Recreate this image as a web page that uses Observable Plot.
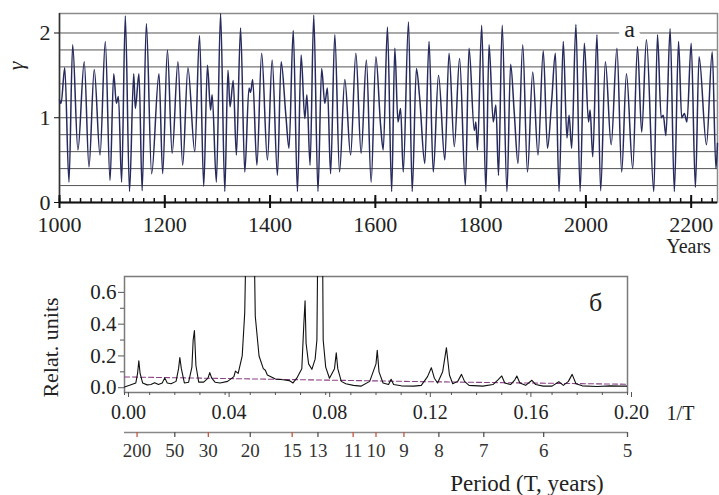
<!DOCTYPE html>
<html>
<head>
<meta charset="utf-8">
<script src="https://cdn.jsdelivr.net/npm/d3@7"></script>
<script src="https://cdn.jsdelivr.net/npm/@observablehq/plot@0.6"></script>
<style>
  html, body { margin: 0; padding: 0; background: #ffffff; }
  #wrap { width: 719px; height: 495px; position: relative; overflow: hidden; }
  #wrap svg { display: block; font-family: "Liberation Serif", "DejaVu Serif", serif !important; }
  #wrap svg text, #wrap svg g { font-family: "Liberation Serif", "DejaVu Serif", serif !important; }
</style>
</head>
<body>
<div id="wrap"></div>
<script>
// ---------- Panel a: reconstructed series ----------
const years = [1000,1003,1010,1018,1025,1035,1047,1056,1066,1077,1087,1096,1103,1108,1112,1118,1125,1133,1141,1144,1151,1157,1165,1175,1189,1196,
1205,1214,1225,1234,1244,1257,1266,1274,1281,1287,1290,1298,1306,1314,1320,1324,1330,1336,1344,1352,1360,1363,1367,1375,1384,1395,
1404,1414,1421,1430,1436,1444,1452,1459,1466,1470,1476,1483,1491,1498,1504,1509,1515,1523,1532,1542,1553,1563,1573,1583,1592,
1601,1610,1615,1623,1631,1637,1643,1648,1653,1663,1670,1678,1684,1694,1702,1710,1720,1732,1740,1750,1760,1771,1778,1788,1791,1794,
1802,1810,1816,1824,1829,1834,1841,1850,1857,1864,1871,1880,1889,1899,1909,1919,1927,1935,1942,1949,1957,1964,1968,1973,1981,1989,1997,
2005,2008,2013,2021,2028,2037,2048,2059,2068,2077,2089,2098,2106,2115,2129,2136,2143,2147,2152,2160,2168,2176,2182,2187,2192,
2200,2208,2215,2229,2240,2247,2250];
const gammaValues = [1.21,1.17,1.59,0.24,1.86,0.62,1.66,0.42,1.57,0.56,1.90,0.26,1.52,1.17,1.25,0.24,2.20,0.13,1.52,1.11,1.52,0.14,2.11,0.34,1.52,0.34,
1.80,0.58,1.66,0.44,1.59,0.60,1.97,0.19,1.62,1.09,1.27,0.24,2.23,0.13,1.56,1.13,1.44,0.56,2.06,0.36,1.35,1.30,1.45,0.44,1.76,0.50,
1.68,0.32,1.66,1.03,0.64,2.03,0.13,1.74,0.99,1.27,0.44,2.21,0.13,1.58,1.17,1.35,0.34,1.98,0.36,1.45,0.56,1.76,0.58,1.68,0.24,
1.72,0.91,0.62,2.07,0.13,1.82,0.95,1.11,0.36,2.13,0.13,1.58,1.25,0.46,1.90,0.36,1.50,0.50,1.76,0.66,1.70,0.20,1.82,0.85,0.95,0.62,
2.09,0.13,1.86,0.95,1.15,0.32,2.09,0.13,1.63,1.05,0.46,1.86,0.36,1.54,0.56,1.79,0.64,1.20,1.76,0.13,1.90,0.76,1.03,0.64,2.10,0.13,1.88,
0.95,1.09,0.54,1.98,0.14,1.66,0.68,1.82,0.36,1.52,0.40,1.84,0.83,1.92,0.13,1.98,1.00,1.03,0.79,2.05,0.13,1.90,1.00,1.05,0.95,
1.88,0.18,1.72,0.68,1.78,0.40,0.70];
const yearLabels = [1000,1200,1400,1600,1800,2000,2200];
const yearMinor = d3.range(1000, 2251, 20);
const gammaLabels = [0,1,2];
const gammaGrid = [0.2,0.4,0.6,0.8,1.0,1.2,1.4,1.6,1.8,2.0];

// ---------- Panel б: spectrum ----------
const specFreq = [0.000,0.002,0.0045,0.0052,0.0057,0.0062,0.0072,0.009,0.0105,0.012,0.0135,0.015,0.016,0.017,0.0185,0.0205,0.0215,0.022,0.0226,0.0238,
0.0255,0.0268,0.0273,0.0278,0.0284,0.0295,0.0315,0.0332,0.0339,0.0347,0.036,0.038,0.041,0.0435,0.0441,0.0452,0.0468,0.0478,0.0490,0.0510,
0.0520,0.0535,0.0552,0.056,0.0568,0.060,0.063,0.0655,0.067,0.0685,0.0705,0.0713,0.0718,0.0722,0.0732,0.0745,0.0758,0.0765,0.0772,0.0785,
0.079,0.080,0.0815,0.0835,0.0842,0.0848,0.0862,0.088,0.091,0.094,0.0975,0.1000,0.1005,0.1012,0.1028,0.105,0.106,0.107,0.110,0.115,
0.118,0.1205,0.122,0.1232,0.1245,0.1265,0.128,0.1292,0.1305,0.1325,0.134,0.1352,0.137,0.1425,0.1465,0.1485,0.150,0.1512,0.1535,0.1552,
0.156,0.1572,0.1595,0.162,0.1635,0.1665,0.170,0.1727,0.1745,0.1765,0.178,0.1795,0.182,0.188,0.193,0.197,0.200];
const specPower = [0.005,0.015,0.03,0.09,0.17,0.09,0.03,0.018,0.02,0.032,0.02,0.03,0.062,0.03,0.025,0.04,0.12,0.19,0.12,0.03,
0.035,0.13,0.30,0.36,0.14,0.035,0.035,0.06,0.095,0.06,0.035,0.03,0.04,0.07,0.105,0.09,0.2,0.47,1.5,1.5,
0.45,0.2,0.12,0.11,0.08,0.055,0.05,0.045,0.03,0.06,0.12,0.4,0.547,0.28,0.15,0.116,0.18,0.3,1.5,1.5,
0.3,0.13,0.06,0.12,0.22,0.12,0.04,0.025,0.015,0.01,0.04,0.15,0.236,0.1,0.03,0.02,0.053,0.02,0.012,0.01,
0.015,0.07,0.126,0.06,0.03,0.1,0.252,0.08,0.025,0.04,0.084,0.04,0.015,0.01,0.02,0.05,0.074,0.03,0.02,0.05,
0.074,0.03,0.015,0.047,0.02,0.01,0.01,0.038,0.015,0.04,0.084,0.025,0.012,0.008,0.012,0.01,0.01];
const levelFreq = [0.00,0.04,0.08,0.12,0.16,0.20];
const levelPower = [0.068,0.058,0.048,0.038,0.030,0.022];
const freqLabels = [0,0.04,0.08,0.12,0.16,0.20];
const freqMinor = d3.range(0, 0.2001, 0.01);
const powerLabels = [0,0.2,0.4,0.6];
const powerMinor = [0.1,0.3,0.5];
const periodsRed = [200,30,15,11,10,9];
const periodsDark = [50,20,13,8,7,6,5];

const serif = "Liberation Serif, DejaVu Serif, serif";
const series = years.map((y, i) => ({year: y, g: gammaValues[i]}));
const spectrum = specFreq.map((f, i) => ({f, p: specPower[i]}));
const level = levelFreq.map((f, i) => ({f, p: levelPower[i]}));

const txt = {fontFamily: serif, fill: "#222"};
const lbl = {...txt, textAnchor: "middle", lineAnchor: "middle"};

const topPlot = Plot.plot({
  width: 719, height: 258,
  marginLeft: 59, marginRight: 2, marginTop: 13, marginBottom: 56,
  style: {fontFamily: serif, fontSize: "22px", background: "#ffffff", color: "#222"},
  x: {domain: [1000, 2250], axis: null},
  y: {domain: [0, 2.23], axis: null},
  marks: [
    Plot.gridY(gammaGrid, {stroke: "#555", strokeOpacity: 1, strokeWidth: 1}),
    Plot.frame({stroke: "#8a8a8a", strokeWidth: 1.5}),
    Plot.ruleX([1000], {stroke: "#333", strokeWidth: 1.5}),
    Plot.line(series, {x: "year", y: "g", stroke: "#262a5c", strokeWidth: 1.5, curve: "monotone-x"}),
    Plot.ruleY([0], {stroke: "#111", strokeWidth: 2.2}),
    Plot.tickX(yearMinor, {x: d => d, stroke: "#111", strokeWidth: 1.5, insetTop: 185}),
    Plot.tickX(yearLabels, {x: d => d, stroke: "#111", strokeWidth: 2, insetTop: 182}),
    Plot.axisX(yearLabels, {...txt, label: null, tickSize: 6, tickPadding: 8, strokeWidth: 2, stroke: "#111", fontSize: 22, fontVariant: "normal", tickFormat: d => String(d)}),
    Plot.axisY(gammaLabels, {...txt, label: null, tickSize: 5, tickPadding: 4, stroke: "#111", fontSize: 22, fontVariant: "normal", tickFormat: d => String(d)}),
    Plot.text(["a"], {...lbl, frameAnchor: "top-right", dx: -88, dy: 16, fontSize: 24, stroke: "#ffffff", strokeWidth: 12}),
    Plot.text(["Years"], {...lbl, frameAnchor: "bottom-right", dx: -29, dy: 44, fontSize: 20}),
    Plot.text(["γ"], {...lbl, frameAnchor: "left", dx: -44, dy: -42, fontSize: 22, fontStyle: "italic", rotate: -90})
  ]
});

const bottomPlot = Plot.plot({
  width: 719, height: 237,
  marginLeft: 124, marginRight: 92, marginTop: 18, marginBottom: 103,
  style: {fontFamily: serif, fontSize: "20px", background: "#ffffff", color: "#222"},
  x: {domain: [0, 0.2], axis: null},
  y: {domain: [-0.03, 0.70], axis: null},
  marks: [
    Plot.frame({stroke: "#7a7a7a", strokeWidth: 1.5}),
    Plot.line(level, {x: "f", y: "p", stroke: "#8e3f8a", strokeWidth: 1.1, strokeDasharray: "5,3"}),
    Plot.line(spectrum, {x: "f", y: "p", stroke: "#111", strokeWidth: 1.1, clip: true}),
    Plot.axisY(powerLabels, {...txt, label: null, tickSize: 6, tickPadding: 2, stroke: "#555", fontSize: 21, fontVariant: "normal", tickFormat: d => d.toFixed(1)}),
    Plot.axisY(powerMinor, {label: null, tickSize: 4, stroke: "#555", tickFormat: () => ""}),
    Plot.axisX(freqLabels, {...txt, label: null, tickSize: 5, tickPadding: 7, stroke: "#555", fontSize: 20, fontVariant: "normal", dx: 4, tickFormat: d => d.toFixed(2)}),
    Plot.axisX(freqMinor, {label: null, tickSize: 3, stroke: "#555", tickFormat: () => ""}),
    Plot.ruleY([-0.03], {dy: 40, stroke: "#888", strokeWidth: 1.3}),
    Plot.axisX(periodsRed.map(t => 1 / t), {...txt, label: null, dy: 40, tickSize: 5, tickPadding: 6, stroke: "#c8563c", strokeWidth: 1.3, fontSize: 19, fontVariant: "normal", fill: "#333", tickFormat: d => String(Math.round(1 / d))}),
    Plot.axisX(periodsDark.map(t => 1 / t), {...txt, label: null, dy: 40, tickSize: 5, tickPadding: 6, stroke: "#555", strokeWidth: 1.3, fontSize: 19, fontVariant: "normal", fill: "#333", tickFormat: d => String(Math.round(1 / d))}),
    Plot.text(["1/T"], {...lbl, frameAnchor: "bottom-right", dx: 53, dy: 21, fontSize: 20}),
    Plot.text(["Period (T, years)"], {...lbl, frameAnchor: "bottom", dx: 151, dy: 91, fontSize: 23}),
    Plot.text(["Relat. units"], {...lbl, frameAnchor: "left", dx: -74, dy: 13, rotate: -90, fontSize: 22}),
    Plot.text(["б"], {...lbl, frameAnchor: "top-right", dx: -32, dy: 26, fontSize: 26})
  ]
});

const wrap = document.getElementById("wrap");
wrap.appendChild(topPlot);
wrap.appendChild(bottomPlot);
</script>
</body>
</html>
